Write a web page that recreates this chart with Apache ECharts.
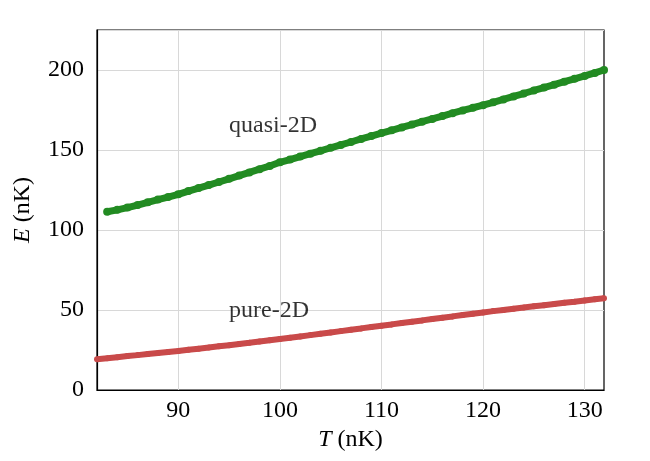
<!DOCTYPE html>
<html>
<head>
<meta charset="utf-8">
<script src="https://cdn.jsdelivr.net/npm/echarts@6/dist/echarts.min.js"></script>
<style>
  html, body { margin: 0; padding: 0; background: #fff; }
  #chart { width: 650px; height: 461px; }
</style>
</head>
<body>
<div id="chart"></div>
<script>
// 数据：点（T, E），单位 nK
const quasiT = [83, 84, 85, 86, 87, 88, 89, 90, 91, 92, 93, 94, 95, 96, 97, 98, 99, 100,
  101, 102, 103, 104, 105, 106, 107, 108, 109, 110, 111, 112, 113, 114, 115, 116, 117,
  118, 119, 120, 121, 122, 123, 124, 125, 126, 127, 128, 129, 130, 131, 131.9];
const quasiE = [111.4, 112.6, 114.0, 115.6, 117.3, 119.0, 120.6, 122.3, 124.3, 126.2,
  128.1, 130.0, 132.0, 134.0, 136.0, 138.0, 140.0, 142.3, 144.0, 145.9, 147.7, 149.5,
  151.4, 153.2, 155.0, 156.9, 158.7, 160.6, 162.3, 164.1, 165.9, 167.7, 169.4, 171.2,
  173.0, 174.7, 176.4, 178.0, 179.8, 181.6, 183.5, 185.3, 187.2, 189.0, 190.8, 192.7,
  194.5, 196.3, 198.2, 200.0];

const pureT = [82, 83, 84, 85, 86, 87, 88, 89, 90, 91, 92, 93, 94, 95, 96, 97, 98, 99, 100,
  101, 102, 103, 104, 105, 106, 107, 108, 109, 110, 111, 112, 113, 114, 115, 116, 117,
  118, 119, 120, 121, 122, 123, 124, 125, 126, 127, 128, 129, 130, 131, 131.9];
const pureE = [19.2, 19.8, 20.5, 21.2, 21.8, 22.5, 23.1, 23.8, 24.4, 25.1, 25.8, 26.5,
  27.3, 28.0, 28.8, 29.5, 30.3, 31.1, 31.9, 32.7, 33.5, 34.3, 35.2, 36.0, 36.8, 37.7,
  38.5, 39.4, 40.2, 41.0, 41.9, 42.7, 43.5, 44.4, 45.2, 46.0, 46.9, 47.7, 48.5, 49.3,
  50.0, 50.8, 51.5, 52.3, 53.0, 53.7, 54.5, 55.2, 56.0, 56.7, 57.3];

// 文字标注位置（数据坐标）
const labelNames = ['quasi-2D', 'pure-2D'];
const labelPos = [[95.0, 165], [95.0, 49.5]];

const xTicks = [90, 100, 110, 120, 130];
const yTicks = [0, 50, 100, 150, 200];

const font = '"Liberation Serif", "DejaVu Serif", serif';
const green = '#228b22';
const red = '#c94a4a';

function pairs(xs, ys) {
  return xs.map((x, i) => [x, ys[i]]);
}

const chart = echarts.init(document.getElementById('chart'));
const option = {
  animation: false,
  grid: {
    left: 97, right: 46, top: 30, bottom: 71,
    show: true, borderColor: '#000', borderWidth: 1.2, backgroundColor: 'transparent'
  },
  xAxis: {
    type: 'value', min: 82, max: 131.9,
    name: '{i|T} (nK)', nameLocation: 'middle', nameGap: 36,
    nameTextStyle: {
      fontFamily: font, fontSize: 24, color: '#000',
      rich: { i: { fontFamily: font, fontStyle: 'italic', fontSize: 24, color: '#000' } }
    },
    axisLine: { show: true, lineStyle: { color: '#000', width: 1.2 } },
    axisTick: { show: true, length: 0, customValues: xTicks },
    splitLine: { show: true, lineStyle: { color: '#d8d8d8', width: 1 } },
    axisLabel: {
      fontFamily: font, fontSize: 24, color: '#000', margin: 9,
      customValues: xTicks
    }
  },
  yAxis: {
    type: 'value', min: 0, max: 225, interval: 50,
    name: '{i|E} (nK)', nameLocation: 'middle', nameGap: 62,
    nameTextStyle: {
      fontFamily: font, fontSize: 24, color: '#000',
      rich: { i: { fontFamily: font, fontStyle: 'italic', fontSize: 24, color: '#000' } }
    },
    axisLine: { show: true, lineStyle: { color: '#000', width: 1.2 } },
    axisTick: { show: false },
    splitLine: { show: true, lineStyle: { color: '#d8d8d8', width: 1 } },
    axisLabel: {
      fontFamily: font, fontSize: 24, color: '#000', margin: 13,
      customValues: yTicks
    }
  },
  series: [
    {
      name: 'quasi-2D', type: 'line', data: pairs(quasiT, quasiE),
      symbol: 'circle', symbolSize: 8, showSymbol: true,
      lineStyle: { color: green, width: 7 },
      itemStyle: { color: green }
    },
    {
      name: 'pure-2D', type: 'line', data: pairs(pureT, pureE),
      symbol: 'circle', symbolSize: 6, showSymbol: true,
      lineStyle: { color: red, width: 6 },
      itemStyle: { color: red }
    },
    {
      name: 'labels', type: 'scatter', symbolSize: 0, silent: true,
      data: labelPos.map((p, i) => ({ value: p, name: labelNames[i] })),
      label: {
        show: true, position: 'right', distance: 0,
        formatter: p => p.name,
        fontFamily: font, fontSize: 24, color: '#000'
      }
    }
  ]
};
chart.setOption(option);
</script>
</body>
</html>
